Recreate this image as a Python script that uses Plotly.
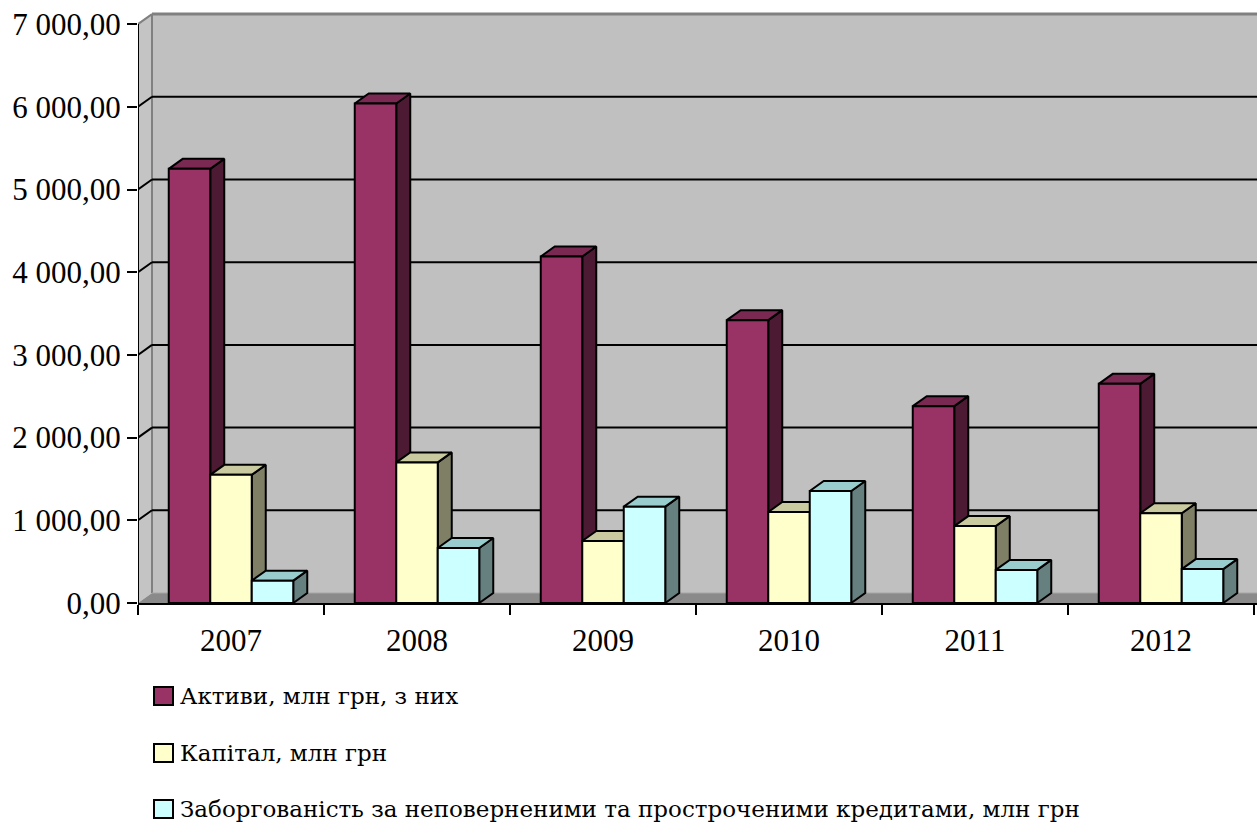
import plotly.graph_objects as go

# ---------------- data ----------------
years = ["2007", "2008", "2009", "2010", "2011", "2012"]
assets = [5250, 6040, 4190, 3420, 2380, 2650]
capital = [1550, 1700, 750, 1100, 930, 1085]
overdue = [270, 665, 1165, 1355, 400, 410]
series_names = [
    "Активи, млн грн, з них",
    "Капітал, млн грн",
    "Заборгованість за неповерненими та простроченими кредитами, млн грн",
]
y_tick_values = [0, 1000, 2000, 3000, 4000, 5000, 6000, 7000]

# ---------------- styling ----------------
W, H = 1257, 824
ML, MR, MT, MB = 138, 0, 12, 221
CAT_PX = 186.0                       # pixels per category
PX_PER_UNIT = 82.7 / 1000.0          # pixels per value unit
DEPTH_PX_X, DEPTH_PX_Y = 14.0, 10.0  # 3D depth offsets (pixels)

dx = DEPTH_PX_X / CAT_PX
dy = DEPTH_PX_Y / PX_PER_UNIT
x_min = -0.5
x_max = x_min + (W - ML - MR) / CAT_PX
y_max = (H - MT - MB) / PX_PER_UNIT
bar_w = 41.5 / CAT_PX

face_colors = [
    ("#993366", "#7a2952", "#4d1a33"),   # front, top, side
    ("#ffffcc", "#cacaa0", "#7f7f66"),
    ("#ccffff", "#99cccc", "#668080"),
]
FONT = "Liberation Serif, DejaVu Serif, serif"
LEGEND_FONT = "DejaVu Serif"


def fmt(v):
    s = f"{v:,.2f}"
    return s.replace(",", " ").replace(".", ",")


fig = go.Figure()

series_values = [assets, capital, overdue]
n_series = len(series_values)
for si, vals in enumerate(series_values):
    fx, fy, tx, ty, sx, sy = [], [], [], [], [], []
    for ci, v in enumerate(vals):
        left = ci - n_series * bar_w / 2 + si * bar_w
        right = left + bar_w
        fx += [left, right, right, left, left, None]
        fy += [0, 0, v, v, 0, None]
        tx += [left, right, right + dx, left + dx, left, None]
        ty += [v, v, v + dy, v + dy, v, None]
        sx += [right, right + dx, right + dx, right, right, None]
        sy += [0, dy, v + dy, v, 0, None]
    front, top, side = face_colors[si]
    common = dict(mode="lines", fill="toself", line=dict(color="black", width=2),
                  showlegend=False, hoverinfo="skip")
    fig.add_trace(go.Scatter(x=sx, y=sy, fillcolor=side, **common))
    fig.add_trace(go.Scatter(x=tx, y=ty, fillcolor=top, **common))
    fig.add_trace(go.Scatter(x=fx, y=fy, fillcolor=front, mode="lines", fill="toself",
                             line=dict(color="black", width=2), showlegend=False,
                             name=series_names[si], hoverinfo="name"))

shapes = []
# back wall
shapes.append(dict(type="rect", xref="x", yref="y", x0=x_min + dx, x1=x_max,
                   y0=dy, y1=7000 + dy, fillcolor="#c0c0c0", line=dict(width=0),
                   layer="below"))
# left wall
shapes.append(dict(type="path", xref="x", yref="y",
                   path=f"M{x_min},0 L{x_min + dx},{dy} L{x_min + dx},{7000 + dy} L{x_min},7000 Z",
                   fillcolor="#c4c4c4", line=dict(width=0), layer="below"))
# floor
shapes.append(dict(type="path", xref="x", yref="y",
                   path=f"M{x_min},0 L{x_max},0 L{x_max},{dy} L{x_min + dx},{dy} Z",
                   fillcolor="#8a8a8a", line=dict(width=0), layer="below"))
# wall edges
shapes.append(dict(type="line", xref="x", yref="y", x0=x_min + dx, x1=x_min + dx,
                   y0=dy, y1=7000 + dy, line=dict(color="#808080", width=2), layer="below"))
shapes.append(dict(type="line", xref="x", yref="y", x0=x_min + dx, x1=x_max,
                   y0=7000 + dy, y1=7000 + dy, line=dict(color="#808080", width=3), layer="below"))
shapes.append(dict(type="line", xref="x", yref="y", x0=x_min, x1=x_min + dx,
                   y0=7000, y1=7000 + dy, line=dict(color="#808080", width=2), layer="below"))
shapes.append(dict(type="line", xref="x", yref="y", x0=x_min + dx, x1=x_max,
                   y0=dy, y1=dy, line=dict(color="#a6a6a6", width=1), layer="below"))
# gridlines on back wall + diagonals on left wall
for v in y_tick_values[1:-1]:
    shapes.append(dict(type="line", xref="x", yref="y", x0=x_min + dx, x1=x_max,
                       y0=v + dy, y1=v + dy, line=dict(color="black", width=2), layer="below"))
    shapes.append(dict(type="line", xref="x", yref="y", x0=x_min, x1=x_min + dx,
                       y0=v, y1=v + dy, line=dict(color="black", width=2), layer="below"))
# value axis line
shapes.append(dict(type="line", xref="x", yref="y", x0=x_min, x1=x_min,
                   y0=0, y1=7000, line=dict(color="black", width=2)))


# ---------------- manual legend ----------------
def px_to_paper(px, py):
    return (px - ML) / (W - ML - MR), (H - MB - py) / (H - MT - MB)


annotations = []
legend_rows = [696, 753, 809]
for si, row in enumerate(legend_rows):
    x0, y0 = px_to_paper(154, row - 9)
    x1, y1 = px_to_paper(173, row + 9)
    shapes.append(dict(type="rect", xref="paper", yref="paper", x0=x0, x1=x1, y0=y1, y1=y0,
                       fillcolor=face_colors[si][0], line=dict(color="black", width=2)))
    ax, ay = px_to_paper(178, row)
    annotations.append(dict(xref="paper", yref="paper", x=ax, y=ay, xanchor="left",
                            yanchor="middle", showarrow=False, text=series_names[si],
                            font=dict(family=LEGEND_FONT, size=23, color="black")))

fig.update_layout(
    width=W, height=H,
    margin=dict(l=ML, r=MR, t=MT, b=MB, pad=0),
    paper_bgcolor="white", plot_bgcolor="white",
    shapes=shapes, annotations=annotations,
    showlegend=False,
    font=dict(family=FONT, size=31, color="black"),
    xaxis=dict(range=[x_min, x_max], tickvals=list(range(len(years))), ticktext=years,
               ticks="", showgrid=False, zeroline=False, showline=True,
               linecolor="black", linewidth=2, ticklabelstandoff=9,
               tickfont=dict(family=FONT, size=31, color="black"),
               minor=dict(tickvals=[i - 0.5 for i in range(len(years) + 1)],
                          ticks="outside", ticklen=10, tickwidth=2, tickcolor="black"),
               fixedrange=True),
    yaxis=dict(range=[0, y_max], tickvals=y_tick_values,
               ticktext=[fmt(v) for v in y_tick_values],
               ticks="outside", ticklen=10, tickwidth=2, tickcolor="black",
               showgrid=False, zeroline=False, showline=False,
               tickfont=dict(family=FONT, size=31, color="black"),
               fixedrange=True),
)

fig.write_html("out.html")
